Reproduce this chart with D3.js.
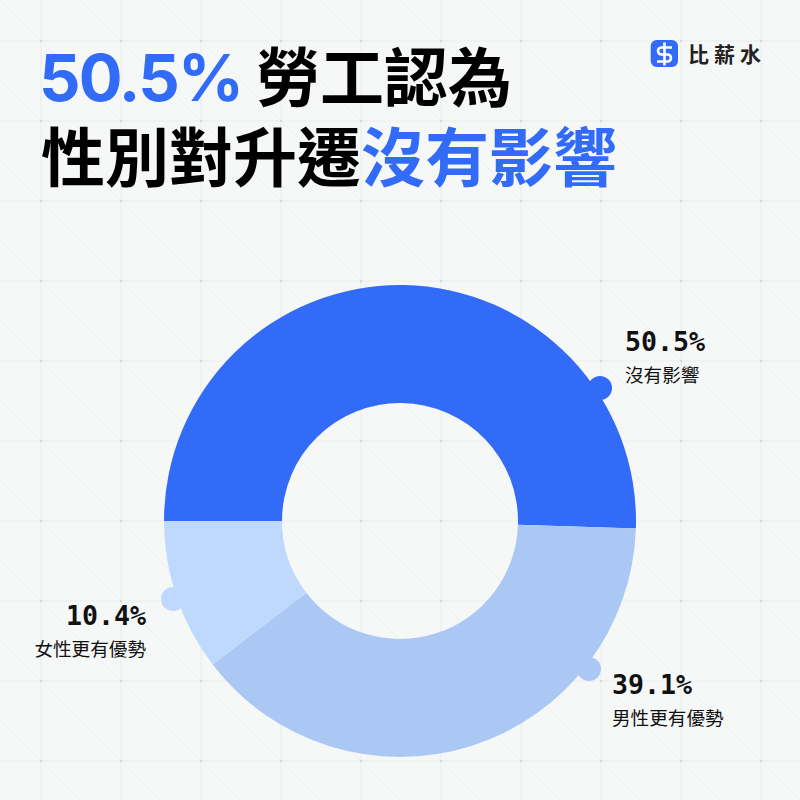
<!DOCTYPE html>
<html><head><meta charset="utf-8">
<script src="https://cdn.jsdelivr.net/npm/d3@7"></script>
<style>html,body{margin:0;padding:0;background:#f6f8f8}svg{display:block}</style>
</head><body><svg id="c" width="800" height="800"></svg>
<script>
const categories=["沒有影響","男性更有優勢","女性更有優勢"];
const values=[50.5,39.1,10.4];
const valueLabels=["50.5%","39.1%","10.4%"];
const colors=["#316bf8","#abc8f5","#bfd8fe"];
const svg=d3.select("#c");
const W=800,H=800;
const sans='Inter,"Noto Sans CJK TC",sans-serif';
const cjk='"Noto Sans CJK TC",sans-serif';
const mono='"DejaVu Sans Mono","Liberation Mono",monospace';
svg.append("rect").attr("width",W).attr("height",H).attr("fill","#f6f8f8");
const g=svg.append("g");
const gridStep=80,gridStart=41;
const gridPos=d3.range(gridStart,H,gridStep);
for(let k=-10;k<=10;k++){
  const o=k*gridStep;
  g.append("line").attr("x1",0).attr("y1",o).attr("x2",H).attr("y2",o+H).attr("stroke","#eef0f0").attr("stroke-width",1);
}
gridPos.forEach(p=>{
  g.append("line").attr("x1",p).attr("x2",p).attr("y1",0).attr("y2",H).attr("stroke","#eceeee").attr("stroke-width",1.2);
  g.append("line").attr("y1",p).attr("y2",p).attr("x1",0).attr("x2",W).attr("stroke","#eceeee").attr("stroke-width",1.2);
});
gridPos.forEach(x=>gridPos.forEach(y=>g.append("rect").attr("x",x-.75).attr("y",y-.75).attr("width",1.5).attr("height",1.5).attr("fill","#c4c6c6")));
const cx=400,cy=521,R=236,r=118;
const pie=d3.pie().sort(null).startAngle(-Math.PI/2).endAngle(1.5*Math.PI);
const arcs=pie(values);
const arc=d3.arc().innerRadius(r).outerRadius(R);
const chart=svg.append("g").attr("transform",`translate(${cx},${cy})`);
chart.selectAll("path").data(arcs).join("path").attr("d",arc).attr("fill",(d,i)=>colors[i]);
const anchors=[[600,388],[589,669],[173,599]];
svg.selectAll("circle.b").data(anchors).join("circle").attr("class","b").attr("cx",d=>d[0]).attr("cy",d=>d[1]).attr("r",12).attr("fill",(d,i)=>colors[i]);
const labelPos=[[625,351,"start"],[612,694,"start"],[146,625,"end"]];
labelPos.forEach((p,i)=>{
  svg.append("text").attr("x",p[0]).attr("y",p[1]).attr("text-anchor",p[2]).attr("font-family",mono).attr("font-weight",700).attr("font-size",26.6).attr("fill","#111").text(valueLabels[i]);
  svg.append("text").attr("x",p[0]).attr("y",p[1]+31).attr("text-anchor",p[2]).attr("font-family",cjk).attr("font-size",18.6).attr("fill","#111").text(categories[i]);
});
svg.append("text").attr("x",39).attr("y",101).attr("font-family",sans).attr("font-weight",700).attr("font-size",65).attr("letter-spacing",-1.8).attr("fill","#316bf8").text("50.5%");
svg.append("text").attr("x",256).attr("y",101).attr("font-family",cjk).attr("font-weight",700).attr("font-size",64).attr("fill","#000").text("勞工認為");
const t2=svg.append("text").attr("x",41).attr("y",181).attr("font-family",cjk).attr("font-weight",700).attr("font-size",64);
t2.append("tspan").attr("fill","#000").text("性別對升遷");
t2.append("tspan").attr("fill","#316bf8").text("沒有影響");
// logo
svg.append("rect").attr("x",650.7).attr("y",40).attr("width",27.3).attr("height",27).attr("rx",6).attr("fill","#316bf8");
svg.append("path").attr("d","M672 47.5H661.5a3.5 3.5 0 0 0 0 7H667.5a3.5 3.5 0 0 1 0 7H657M664.5 42.5V65.5").attr("fill","none").attr("stroke","#fff").attr("stroke-width",2.6);
svg.append("text").attr("x",688).attr("y",62).attr("font-family",cjk).attr("font-weight",700).attr("font-size",21).attr("letter-spacing",5).attr("fill","#222").text("比薪水");
</script></body></html>
